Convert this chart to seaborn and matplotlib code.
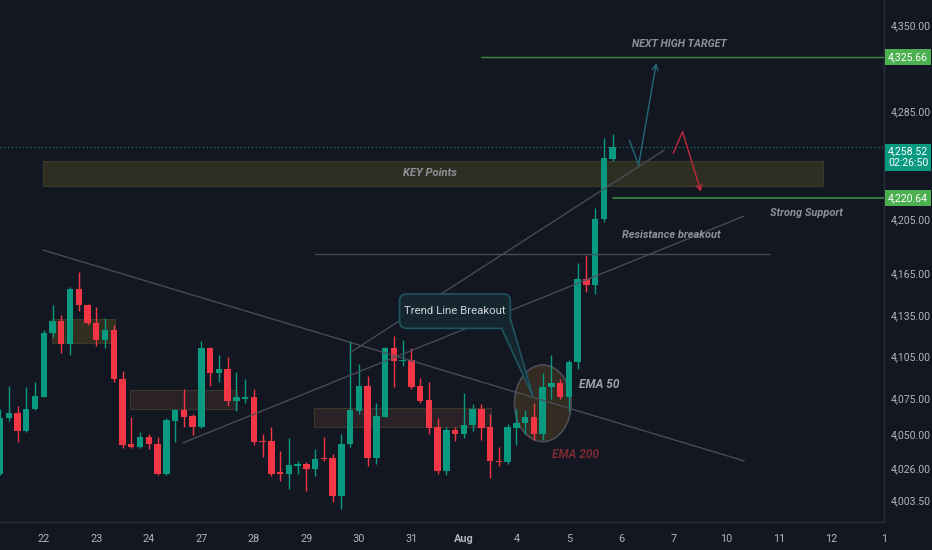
import matplotlib
matplotlib.use('Agg')
import matplotlib.pyplot as plt
import matplotlib.ticker as mticker
import matplotlib.transforms as mtransforms
from matplotlib.patches import Ellipse, FancyBboxPatch, Polygon
import numpy as np
import pandas as pd
import seaborn as sns

# 4h candles
opens = [4022, 4061, 4065, 4052, 4068, 4076, 4122, 4131, 4114, 4154,
         4142, 4129, 4117, 4124, 4089, 4043, 4041, 4048, 4043, 4022,
         4059, 4067, 4063, 4055, 4111, 4093, 4096, 4073, 4075, 4076,
         4045, 4045, 4023, 4022, 4027, 4029, 4025, 4033, 4033, 4006,
         4043, 4066, 4084, 4033, 4062, 4111, 4102, 4103, 4084, 4074,
         4055, 4024, 4053, 4050, 4056, 4068, 4055, 4031, 4030, 4054,
         4058, 4062, 4050, 4083, 4086, 4076, 4101, 4161, 4157, 4205,
         4249]
highs = [4068, 4084, 4070, 4083, 4087, 4124, 4142, 4135, 4155, 4166,
         4143, 4141, 4133, 4128, 4095, 4062, 4051, 4050, 4048, 4061,
         4068, 4082, 4064, 4116, 4112, 4106, 4105, 4094, 4089, 4082,
         4050, 4055, 4038, 4047, 4031, 4030, 4039, 4048, 4036, 4050,
         4116, 4100, 4091, 4072, 4112, 4120, 4117, 4111, 4090, 4087,
         4061, 4055, 4055, 4079, 4071, 4071, 4064, 4041, 4057, 4068,
         4067, 4072, 4093, 4106, 4089, 4103, 4173, 4179, 4213, 4265,
         4268]
lows = [4021, 4059, 4044, 4051, 4067, 4076, 4119, 4108, 4106, 4138,
        4128, 4113, 4111, 4087, 4040, 4040, 4040, 4039, 4021, 4021,
        4044, 4055, 4049, 4054, 4084, 4087, 4070, 4066, 4072, 4042,
        4034, 4020, 4017, 4011, 4022, 4010, 4020, 4031, 4002, 3997,
        4041, 4064, 4027, 4029, 4062, 4083, 4098, 4082, 4072, 4050,
        4022, 4021, 4045, 4047, 4052, 4046, 4019, 4027, 4029, 4042,
        4050, 4046, 4046, 4075, 4075, 4066, 4096, 4152, 4150, 4203,
        4248]
closes = [4061, 4065, 4052, 4068, 4077, 4122, 4131, 4114, 4154, 4142,
          4129, 4117, 4124, 4089, 4042, 4041, 4048, 4043, 4022, 4060,
          4067, 4062, 4055, 4111, 4093, 4096, 4073, 4076, 4076, 4044,
          4044, 4022, 4022, 4028, 4029, 4025, 4032, 4032, 4006, 4043,
          4067, 4084, 4033, 4063, 4111, 4102, 4103, 4083, 4073, 4054,
          4024, 4053, 4050, 4056, 4068, 4054, 4031, 4030, 4055, 4058,
          4062, 4050, 4083, 4086, 4076, 4101, 4161, 4157, 4205, 4250,
          4258.52]

day_bars = [5, 11, 17, 23, 29, 35, 41, 47, 53, 59, 65, 71, 77, 83, 89, 95, 101]
day_labels = ['22', '23', '24', '27', '28', '29', '30', '31', 'Aug', '4', '5',
              '6', '7', '10', '11', '12', '1']

price_ticks = [4003.50, 4026.00, 4050.00, 4075.00, 4105.00, 4135.00,
               4165.00, 4205.00, 4285.00, 4350.00]
last_price = 4258.52
target_price = 4325.66
support_price = 4220.64
countdown = '02:26:50'

BG = '#131722'
UP = '#089981'
DOWN = '#f23645'
TXT = '#b2b5be'
LINE = '#4c505b'
NOTE = '#8e9199'

sns.set_theme(style='dark', rc={'axes.facecolor': BG, 'figure.facecolor': BG})
plt.rcParams['font.family'] = ['Roboto', 'DejaVu Sans']

df = pd.DataFrame({'open': opens, 'high': highs, 'low': lows, 'close': closes})
df['bar'] = np.arange(len(df))
df['up'] = df['close'] >= df['open']
df['color'] = np.where(df['up'], UP, DOWN)
df['body_lo'] = df[['open', 'close']].min(axis=1)
df['body_h'] = (df['close'] - df['open']).abs().clip(lower=0.8)

fig = plt.figure(figsize=(9.32, 5.5), dpi=100)
ax = fig.add_axes([0, 28 / 550, 884 / 932, 522 / 550])
ax.set_yscale('log')
ax.set_xlim(0, 101.02)
ax.set_ylim(3988.1, 4369.1)

# zones
ax.fill_between([4.91, 94.06], 4229.7, 4247.9, color='#2f2e22',
                edgecolor='#3a3a2a', lw=0.8, zorder=1)
ax.fill_between([5.94, 13.13], 4114.9, 4132.2, color='#302f20',
                edgecolor='#3a3a28', lw=0.8, zorder=1)
ax.fill_between([14.84, 27.05], 4067.7, 4081.2, color='#2b2228',
                edgecolor='#38382a', lw=0.8, zorder=1)
ax.fill_between([35.84, 56.16], 4054.9, 4068.4, color='#2b2228',
                edgecolor='#38382a', lw=0.8, zorder=1)

# circle around the EMA cross
circ_tr = fig.dpi_scale_trans + mtransforms.ScaledTranslation(62.03, 4071.7, ax.transData)
ax.add_patch(Ellipse((0, 0), 0.567, 0.767, transform=circ_tr, facecolor='#382e22',
                     edgecolor='#50535b', lw=1.2, alpha=0.9, zorder=2))

# candles
ax.vlines(df['bar'], df['low'], df['high'], colors=df['color'], lw=1.0, zorder=3)
ax.bar(df['bar'], df['body_h'], bottom=df['body_lo'], width=0.74,
       color=df['color'], lw=0, zorder=3)

# last price line
ax.axhline(last_price, color='#2a8f86', lw=0.9, ls=(0, (1, 2)), alpha=0.8, zorder=2)

# drawn lines
ax.plot([4.91, 85.05], [4182.3, 4030.9], color=LINE, lw=1, alpha=0.9, zorder=4)
ax.plot([39.95, 75.91], [4107.7, 4256.0], color=LINE, lw=1, alpha=0.9, zorder=4)
ax.plot([20.89, 85.05], [4043.6, 4207.2], color=LINE, lw=1, alpha=0.9, zorder=4)
ax.plot([36.0, 87.9], [4179.4, 4179.4], color=LINE, lw=1, alpha=0.9, zorder=4)
ax.plot([55.0, 101.02], [target_price, target_price], color='#388e3c', lw=1, zorder=4)
ax.plot([70.0, 101.02], [support_price, support_price], color='#388e3c', lw=1.2, zorder=4)

# arrows
ax.plot([71.92, 72.98], [4263.5, 4244.9], color='#23697a', lw=1, zorder=4)
ax.annotate('', xy=(75.0, 4321.2), xytext=(72.98, 4244.9),
            arrowprops=dict(arrowstyle='->', color='#23697a', lw=1,
                            mutation_scale=10, shrinkA=0, shrinkB=0), zorder=4)
ax.plot([76.94, 78.0], [4253.6, 4269.7], color='#c2283a', lw=1, zorder=4)
ax.annotate('', xy=(80.1, 4225.1), xytext=(78.0, 4269.7),
            arrowprops=dict(arrowstyle='->', color='#c2283a', lw=1,
                            mutation_scale=10, shrinkA=0, shrinkB=0), zorder=4)

# callout
call_tr = fig.dpi_scale_trans + mtransforms.ScaledTranslation(45.66, 4125.4, ax.transData)
ax.add_patch(FancyBboxPatch((0, 0), 1.107, 0.343, boxstyle='round,pad=0,rounding_size=0.07',
                            transform=call_tr, facecolor='#16262f', edgecolor='#1e5560',
                            lw=1.2, zorder=5))
ax.add_patch(Polygon([(1.02, 0.01), (1.335, -0.682), (1.097, 0.10)], closed=True,
                     transform=call_tr, facecolor='#16262f', edgecolor='none', zorder=5))
ax.plot([1.02, 1.335, 1.107], [0.0, -0.682, 0.10], transform=call_tr,
        color='#1e5560', lw=1.2, zorder=5)
ax.text(0.5535, 0.1715, 'Trend Line Breakout', transform=call_tr, ha='center', va='center',
        color='#d1d4dc', fontsize=8.2, zorder=6)

# labels on the chart
lab = dict(fontweight='bold', fontstyle='italic', zorder=6)
ax.text(77.6, 4335.6, 'NEXT HIGH TARGET', ha='center', va='center', color=NOTE,
        fontsize=7.7, **lab)
ax.text(49.1, 4239.0, 'KEY Points', ha='center', va='center', color=NOTE,
        fontsize=8.1, **lab)
ax.text(92.2, 4209.4, 'Strong Support', ha='center', va='center', color=NOTE,
        fontsize=7.9, **lab)
ax.text(76.7, 4193.3, 'Resistance breakout', ha='center', va='center', color=NOTE,
        fontsize=7.9, **lab)
ax.text(66.2, 4084.8, 'EMA 50', ha='left', va='center', color='#9ea1a9',
        fontsize=8.6, **lab)
ax.text(63.1, 4035.1, 'EMA 200', ha='left', va='center', color='#7a2a30',
        fontsize=8.6, **lab)

# axes
ax.yaxis.tick_right()
ax.yaxis.set_major_locator(mticker.FixedLocator(price_ticks))
ax.yaxis.set_minor_locator(mticker.NullLocator())
ax.yaxis.set_major_formatter(mticker.FuncFormatter(lambda v, p: f'{v:,.2f}'))
ax.yaxis.set_minor_formatter(mticker.NullFormatter())
ax.set_xticks(day_bars)
ax.set_xticklabels(day_labels)
ax.tick_params(axis='y', length=0, pad=5, labelsize=7.6, labelcolor=TXT)
ax.tick_params(axis='x', length=0, pad=9, labelsize=7.8, labelcolor=TXT)
for t in ax.get_xticklabels():
    if t.get_text() == 'Aug':
        t.set_fontweight('bold')
ax.grid(False)
for s in ['top', 'left']:
    ax.spines[s].set_visible(False)
for s in ['right', 'bottom']:
    ax.spines[s].set_color('#2a2e39')
    ax.spines[s].set_linewidth(1)

# price tags on the scale
tag_tr = mtransforms.blended_transform_factory(ax.transAxes, ax.transData)
for price, fc in [(target_price, '#4caf50'), (support_price, '#4caf50')]:
    ax.text(1.0045, price, f'{price:,.2f}', transform=tag_tr, ha='left', va='center',
            color='white', fontsize=7.6, clip_on=False, zorder=7,
            bbox=dict(boxstyle='square,pad=0.28', fc=fc, ec='none'))
ax.text(1.0045, last_price, f'{last_price:,.2f}\n{countdown}', transform=tag_tr,
        ha='left', va='top', color='white', fontsize=7.6, linespacing=1.15,
        clip_on=False, zorder=7,
        bbox=dict(boxstyle='square,pad=0.28', fc='#089981', ec='none'))

fig.savefig('out.png', dpi=100, facecolor=BG)
